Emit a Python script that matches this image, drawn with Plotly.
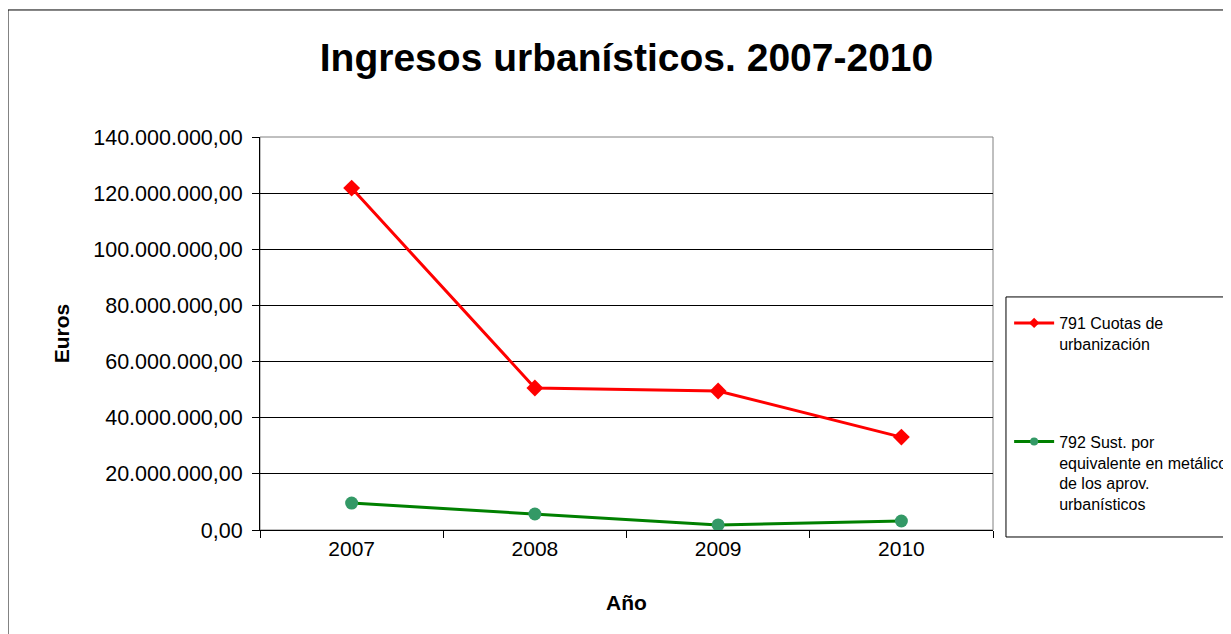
import plotly.graph_objects as go

# datos
anios = ['2007', '2008', '2009', '2010']
cuotas_urbanizacion = [121800000, 50600000, 49500000, 33100000]
sust_metalico = [9600000, 5700000, 1800000, 3200000]

nombre_791 = '791 Cuotas de<br>urbanización'
nombre_792 = '792 Sust. por<br>equivalente en metálico<br>de los aprov.<br>urbanísticos'

fuente = 'Arial, Liberation Sans, sans-serif'
rojo, verde, verde_marcador = '#ff0000', '#008000', '#339966'

fig = go.Figure()
fig.add_trace(go.Scatter(
    x=anios, y=cuotas_urbanizacion, name=nombre_791, mode='lines+markers',
    showlegend=False,
    line=dict(color=rojo, width=3),
    marker=dict(symbol='diamond', size=13, color=rojo)))
fig.add_trace(go.Scatter(
    x=anios, y=sust_metalico, name=nombre_792, mode='lines+markers',
    showlegend=False,
    line=dict(color=verde, width=3),
    marker=dict(symbol='circle', size=13, color=verde_marcador)))

# entradas de leyenda (marcadores pequeños como en el original)
fig.add_trace(go.Scatter(x=[None], y=[None], name=nombre_791, mode='lines+markers', legendgroup='a',
                         line=dict(color=rojo, width=3), marker=dict(symbol='diamond', size=8, color=rojo)))
fig.add_trace(go.Scatter(x=[None], y=[None], name=nombre_792, mode='lines+markers', legendgroup='b',
                         line=dict(color=verde, width=3), marker=dict(symbol='circle', size=8, color=verde_marcador)))

# marco exterior y marco del área de trazado
fig.add_shape(type='rect', xref='paper', yref='paper', x0=-0.3438, x1=1.6, y0=1.3232, y1=-0.5,
              line=dict(color='#000000', width=1), layer='below')
fig.add_shape(type='rect', xref='paper', yref='paper', x0=0, x1=1, y0=0, y1=1,
              line=dict(color='#808080', width=1), layer='below')
# caja de la leyenda
fig.add_shape(type='rect', xref='paper', yref='paper', x0=1.0177, x1=1.5, y0=0.593, y1=-0.0178,
              line=dict(color='#000000', width=1))

# el cuerpo de la página añade 8 px de margen: se compensa en los márgenes
fig.update_layout(
    width=1231, height=634,
    margin=dict(l=252, r=246, t=129, b=112, autoexpand=False),
    paper_bgcolor='white', plot_bgcolor='white',
    separators=',.',
    font=dict(family=fuente, color='#000000', size=21),
    title=dict(text='<b>Ingresos urbanísticos. 2007-2010</b>', font=dict(size=39),
               x=0.5, xref='paper', xanchor='center', y=1 - 49 / 634, yref='container', yanchor='middle'),
    showlegend=True,
    legend=dict(x=1.022, xanchor='left', y=0.57, yanchor='top',
                bgcolor='rgba(0,0,0,0)', borderwidth=0,
                font=dict(size=16), valign='top', tracegroupgap=74,
                itemwidth=40),
)

fig.update_xaxes(
    type='category', range=[-0.5, 3.5],
    showline=True, linecolor='#000000', linewidth=1,
    ticks='outside', tickson='boundaries', ticklen=7, tickcolor='#000000',
    showgrid=False,
    title=dict(text='<b>Año</b>', font=dict(size=21), standoff=36),
)
fig.update_yaxes(
    range=[0, 140000000], dtick=20000000, tickformat=',.2f', tickfont=dict(size=21.5),
    showline=True, linecolor='#000000', linewidth=1,
    ticks='outside', ticklen=7, tickcolor='#000000', ticklabelstandoff=5,
    showgrid=True, gridcolor='#000000', gridwidth=1, zeroline=False,
    title=dict(text='<b>Euros</b>', font=dict(size=21), standoff=17),
)

fig.write_html('out.html')
